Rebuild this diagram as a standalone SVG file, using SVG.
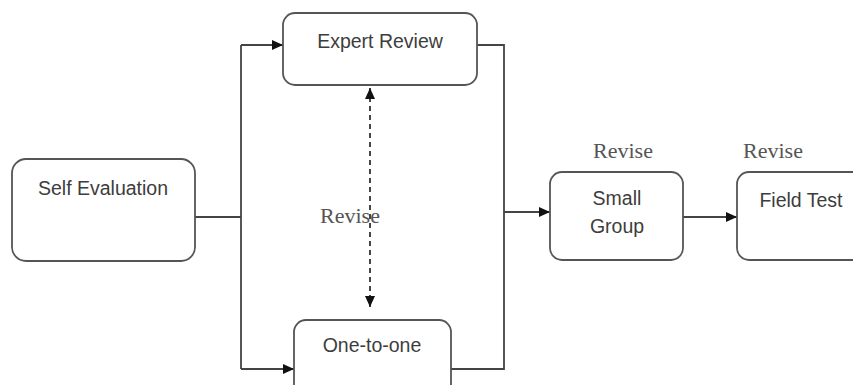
<svg xmlns="http://www.w3.org/2000/svg" width="853" height="385" viewBox="0 0 853 385">
<style>
.box{fill:#fff;stroke:#555;stroke-width:1.8}
.lbl{font-family:"Liberation Sans",Arial,sans-serif;font-size:19.5px;fill:#3d3d3d;text-anchor:middle}
.rev{font-family:"Liberation Serif","Times New Roman",serif;font-size:22px;fill:#555;text-anchor:middle}
.ln{fill:none;stroke:#444;stroke-width:1.8}
.dash{fill:none;stroke:#333;stroke-width:1.8;stroke-dasharray:5 4}
</style>
<defs>
<marker id="ah" markerUnits="userSpaceOnUse" markerWidth="12" markerHeight="10" refX="11" refY="5" orient="auto-start-reverse">
<path d="M0,0 L11,5 L0,10 Z" fill="#111"/>
</marker>
</defs>
<rect width="853" height="385" fill="#fff"/>
<g id="connectors">
<polyline class="ln" points="195,217 241,217"/>
<polyline class="ln" points="241,45 241,369"/>
<line class="ln" x1="241" y1="45" x2="283" y2="45" marker-end="url(#ah)"/>
<line class="ln" x1="241" y1="369" x2="294" y2="369" marker-end="url(#ah)"/>
<polyline class="ln" points="477,45 504,45 504,369 451,369"/>
<line class="ln" x1="504" y1="212" x2="550" y2="212" marker-end="url(#ah)"/>
<line class="ln" x1="683" y1="217" x2="737" y2="217" marker-end="url(#ah)"/>
<line class="dash" x1="370" y1="88" x2="370" y2="307" marker-start="url(#ah)" marker-end="url(#ah)"/>
<text class="rev" x="350" y="223">Revise</text>
</g>
<g id="self-evaluation">
<rect class="box" x="12" y="159" width="183" height="102" rx="14"/>
<text class="lbl" x="103" y="195">Self Evaluation</text>
</g>
<g id="expert-review">
<rect class="box" x="283" y="13" width="194" height="72" rx="12"/>
<text class="lbl" x="380" y="48">Expert Review</text>
</g>
<g id="one-to-one">
<rect class="box" x="294" y="320" width="157" height="80" rx="12"/>
<text class="lbl" x="372" y="352">One-to-one</text>
</g>
<g id="small-group">
<rect class="box" x="550" y="172" width="133" height="88" rx="12"/>
<text class="lbl" x="617" y="205">Small</text>
<text class="lbl" x="617" y="233">Group</text>
<text class="rev" x="623" y="158">Revise</text>
</g>
<g id="field-test">
<rect class="box" x="737" y="172" width="140" height="88" rx="12"/>
<text class="lbl" x="801" y="207">Field Test</text>
<text class="rev" x="773" y="158">Revise</text>
</g>
</svg>
